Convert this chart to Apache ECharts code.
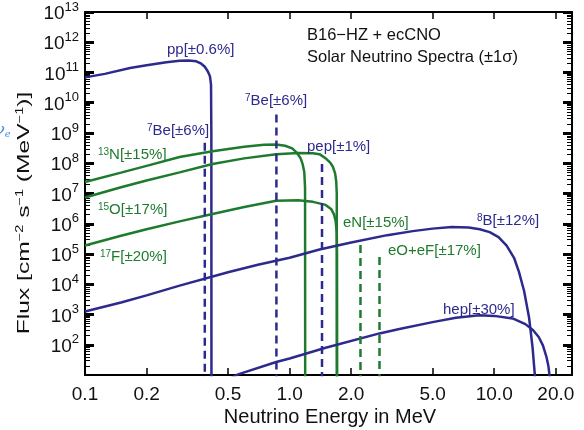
<!DOCTYPE html>
<html><head><meta charset="utf-8">
<script src="https://cdn.jsdelivr.net/npm/echarts@6/dist/echarts.min.js"></script>
<style>html,body{margin:0;padding:0;background:#fff}#c{width:584px;height:430px}</style>
</head><body><div id="c"></div>
<script>
// ---- data (energy in MeV, flux in cm^-2 s^-1 MeV^-1) ----
const ppE  = [0.1, 0.125, 0.166, 0.2, 0.25, 0.29, 0.32, 0.35, 0.37, 0.385, 0.398, 0.408, 0.413, 0.4145, 0.415];
const ppF  = [6.9e10, 9.0e10, 1.4e11, 1.75e11, 2.2e11, 2.45e11, 2.5e11, 2.35e11, 1.95e11, 1.55e11, 1.1e11, 7.5e10, 4e10, 1e9, 1];
const n13E = [0.1, 0.15, 0.2, 0.29, 0.42, 0.6, 0.75, 0.86, 0.95, 1.03, 1.08, 1.13, 1.16, 1.18, 1.19, 1.192];
const n13F = [2.4e7, 4.9e7, 8.2e7, 1.6e8, 2.5e8, 3.5e8, 4.1e8, 4.2e8, 3.8e8, 3.1e8, 2.3e8, 1.5e8, 9e7, 5e7, 1.5e7, 1];
const o15E = [0.1, 0.15, 0.2, 0.29, 0.42, 0.6, 0.86, 1.1, 1.3, 1.4, 1.51, 1.58, 1.63, 1.67, 1.69, 1.70, 1.702];
const o15F = [7.4e6, 1.6e7, 2.7e7, 5e7, 9.4e7, 1.45e8, 2.0e8, 2.2e8, 2.15e8, 2.0e8, 1.4e8, 1.05e8, 7.5e7, 4.5e7, 2.5e7, 1e7, 1];
const f17E = [0.1, 0.15, 0.2, 0.29, 0.42, 0.6, 0.86, 1.1, 1.3, 1.5, 1.6, 1.65, 1.68, 1.70, 1.705, 1.707];
const f17F = [1.9e5, 4.0e5, 6.6e5, 1.2e6, 2.1e6, 3.6e6, 5.8e6, 6.0e6, 5.3e6, 4.2e6, 3.0e6, 2.0e6, 1.2e6, 5e5, 1e5, 1];
const b8E  = [0.1, 0.15, 0.2, 0.29, 0.5, 0.7, 1, 1.4, 2, 3, 4, 5, 6.2, 7.5, 8.5, 9.5, 10.5, 11.5, 12.5, 13.2, 14, 14.8, 15.4, 15.8, 16];
const b8F  = [1.25e3, 2.5e3, 4.3e3, 9e3, 2.5e4, 4.4e4, 7.5e4, 1.4e5, 2.4e5, 4.2e5, 5.7e5, 6.9e5, 7.8e5, 7.5e5, 6.6e5, 5.3e5, 3.6e5, 1.9e5, 7.5e4, 2.6e4, 6e3, 8e2, 80, 10, 1];
const hepE = [0.5, 0.56, 0.86, 1, 1.5, 2.75, 3.44, 5, 6.5, 8.45, 10, 12.3, 14.2, 15.5, 16.5, 17.3, 18.0, 18.4, 18.7, 18.8];
const hepF = [7, 10.5, 27, 35, 80, 237, 330, 560, 780, 940, 900, 740, 480, 300, 180, 95, 40, 20, 8, 1];
// mono-energetic lines: [energy, top flux]
const be7aLine = [0.385, 4.8e8];
const be7bLine = [0.862, 4.1e9];
const pepLine  = [1.44, 9.4e7];
const eNLine   = [2.22, 2.0e5];
const eOFLine  = [2.75, 8.0e4];
// axes
const xTickValues = [0.1, 0.2, 0.5, 1, 2, 5, 10, 20];
const xTickLabels = ['0.1', '0.2', '0.5', '1.0', '2.0', '5.0', '10.0', '20.0'];
const yTickExps = [2, 3, 4, 5, 6, 7, 8, 9, 10, 11, 12, 13];

const BLUE = '#2d2a8e', GREEN = '#1e7b2e', FONT = '"Liberation Sans", Arial, Helvetica, sans-serif';
const yMajor = yTickExps.map(e => Math.pow(10, e));
const yMinor = [];
for (let d = 1; d <= 12; d++) for (let k = 2; k <= 9; k++) yMinor.push(k * Math.pow(10, d));
const xMinorTicks = xTickValues.slice(1);

function pairs(E, F) { return E.map((e, i) => [e, F[i]]); }
function vline(p) { return [[p[0], p[1]], [p[0], 1]]; }
function line(data, color, dashed) {
  return { type: 'line', data, symbol: 'none', showSymbol: false, silent: true, clip: true,
    lineStyle: { color, width: 2.5, type: dashed ? [8, 5] : 'solid', cap: 'butt' }, z: 3 };
}

const chart = echarts.init(document.getElementById('c'), null, { renderer: 'canvas' });
const yBase = { type: 'log', logBase: 10, min: 10, max: 1e13, splitLine: { show: false }, axisLabel: { show: false } };
const xBase = { type: 'log', logBase: 10, min: 0.1, max: 24, splitLine: { show: false } };

function ann(x, y, parts, color, size) {
  return { type: 'text', x, y, z: 10, silent: true,
    style: { text: parts, fill: color, fontSize: size || 15, fontFamily: FONT, align: 'left', verticalAlign: 'middle',
      rich: { s: { fontSize: 10, fill: color, fontFamily: FONT, verticalAlign: 'top' },
              n: { fontSize: size || 15, fill: color, fontFamily: FONT } } } };
}

chart.setOption({
  animation: false,
  backgroundColor: '#fff',
  grid: { left: 85, right: 12, top: 12, bottom: 55, show: false },
  xAxis: [
    Object.assign({}, xBase, { position: 'bottom',
      axisLine: { lineStyle: { color: '#000', width: 2 } },
      axisTick: { inside: true, length: 7, lineStyle: { color: '#000', width: 1.5 }, customValues: xMinorTicks },
      axisLabel: { customValues: xTickValues, margin: 10, fontSize: 19, color: '#111', fontFamily: FONT,
        formatter: v => { const i = xTickValues.findIndex(t => Math.abs(t - v) < 1e-6 * t); return i >= 0 ? xTickLabels[i] : ''; } } }),
    Object.assign({}, xBase, { position: 'top',
      axisLine: { lineStyle: { color: '#000', width: 2 } },
      axisTick: { inside: true, length: 7, lineStyle: { color: '#000', width: 1.5 }, customValues: xMinorTicks },
      axisLabel: { show: false } })
  ],
  yAxis: [
    Object.assign({}, yBase, { position: 'left',
      axisLine: { show: true, lineStyle: { color: '#000', width: 2 } },
      axisTick: { inside: true, length: 9, lineStyle: { color: '#000', width: 3 }, customValues: yMajor },
      axisLabel: { show: true, customValues: yMajor, margin: 6, color: '#111', fontFamily: FONT,
        formatter: v => '{b|10}{s|' + Math.round(Math.log10(v)) + '}',
        rich: { b: { fontSize: 19, fontFamily: FONT, color: '#111', padding: [4, 0, 0, 0] },
                s: { fontSize: 13, fontFamily: FONT, color: '#111', verticalAlign: 'top' } } } }),
    Object.assign({}, yBase, { position: 'left',
      axisLine: { show: false },
      axisTick: { inside: true, length: 5, lineStyle: { color: '#000', width: 1 }, customValues: yMinor } }),
    Object.assign({}, yBase, { position: 'right',
      axisLine: { show: true, lineStyle: { color: '#000', width: 2 } },
      axisTick: { inside: true, length: 9, lineStyle: { color: '#000', width: 3 }, customValues: yMajor } }),
    Object.assign({}, yBase, { position: 'right',
      axisLine: { show: false },
      axisTick: { inside: true, length: 5, lineStyle: { color: '#000', width: 1 }, customValues: yMinor } })
  ],
  series: [
    line(pairs(ppE, ppF), BLUE),
    line(pairs(n13E, n13F), GREEN),
    line(pairs(o15E, o15F), GREEN),
    line(pairs(f17E, f17F), GREEN),
    line(pairs(b8E, b8F), BLUE),
    line(pairs(hepE, hepF), BLUE),
    line(vline(be7aLine), BLUE, true),
    line(vline(be7bLine), BLUE, true),
    line(vline(pepLine), BLUE, true),
    line(vline(eNLine), GREEN, true),
    line(vline(eOFLine), GREEN, true)
  ],
  graphic: [
    ann(167, 50, 'pp[±0.6%]', BLUE),
    ann(147, 131, '{s|7}{n|Be[±6%]}', BLUE),
    ann(245, 101, '{s|7}{n|Be[±6%]}', BLUE),
    ann(307, 147, 'pep[±1%]', BLUE),
    ann(98, 155, '{s|13}{n|N[±15%]}', GREEN),
    ann(98, 210, '{s|15}{n|O[±17%]}', GREEN),
    ann(100, 257, '{s|17}{n|F[±20%]}', GREEN),
    ann(343, 223, 'eN[±15%]', GREEN),
    ann(388, 251, 'eO+eF[±17%]', GREEN),
    ann(477, 221, '{s|8}{n|B[±12%]}', BLUE),
    ann(443, 310, 'hep[±30%]', BLUE),
    ann(307, 35, 'B16−HZ + ecCNO', '#111', 16.5),
    ann(307, 57, 'Solar Neutrino Spectra (±1σ)', '#111', 16.5),
    { type: 'text', x: 330, y: 417, silent: true,
      style: { text: 'Neutrino Energy in MeV', fill: '#111', fontSize: 20, fontFamily: FONT, align: 'center', verticalAlign: 'middle' } },
    { type: 'text', x: 24, y: 213, rotation: Math.PI / 2, scaleX: 1.45, silent: true,
      style: { text: 'Flux [cm{s|−2} s{s|−1} (MeV{s|−1})]', fill: '#111', fontSize: 17, fontFamily: FONT, align: 'center', verticalAlign: 'middle',
        rich: { s: { fontSize: 10, fill: '#111', fontFamily: FONT, verticalAlign: 'top' } } } },
    { type: 'text', x: -5, y: 131, silent: true,
      style: { text: '{n|ν}{e|e}', fill: '#4a8fd6', fontSize: 16, fontFamily: '"DejaVu Serif", serif', align: 'left', verticalAlign: 'middle',
        rich: { n: { fontSize: 16, fontStyle: 'italic', fill: '#4a8fd6', fontFamily: '"DejaVu Serif", serif' },
                e: { fontSize: 10, fontStyle: 'italic', fill: '#4a8fd6', fontFamily: '"DejaVu Serif", serif', verticalAlign: 'bottom' } } } }
  ]
});
</script></body></html>
